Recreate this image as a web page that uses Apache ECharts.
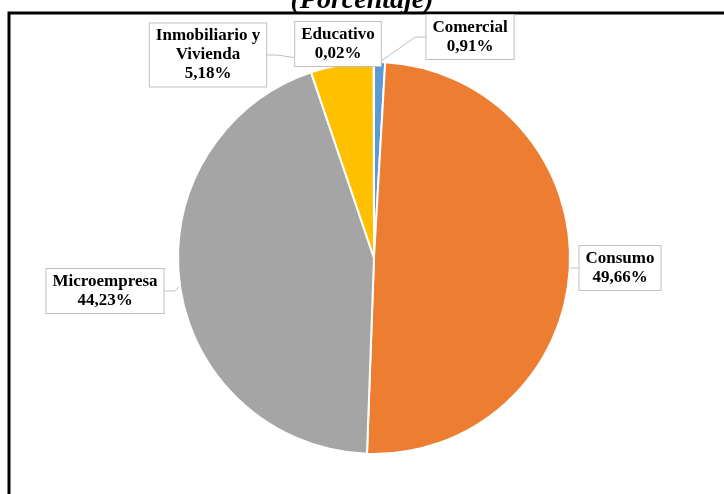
<!DOCTYPE html>
<html>
<head>
<meta charset="utf-8">
<script src="https://cdn.jsdelivr.net/npm/echarts@6/dist/echarts.min.js"></script>
<style>
  html, body { margin: 0; padding: 0; background: #fff; }
  #chart { width: 724px; height: 494px; }
</style>
</head>
<body>
<div id="chart"></div>
<script>
// datos del gráfico (porcentaje)
var categorias = ['Comercial', 'Consumo', 'Microempresa', 'Inmobiliario y Vivienda', 'Educativo'];
var valores = [0.91, 49.66, 44.23, 5.18, 0.02];
var colores = ['#5B9BD5', '#ED7D31', '#A5A5A5', '#FFC000', '#4472C4'];

// posicion de las etiquetas (centro de cada caja)
var posEtiquetas = [[470, 37], [620, 268], [105, 291], [208, 55], [338, 44]];

var myChart = echarts.init(document.getElementById('chart'));

var datos = [];
for (var i = 0; i < categorias.length; i++) {
    datos.push({ name: categorias[i], value: valores[i], itemStyle: { color: colores[i] } });
}

var option = {
    animation: false,
    backgroundColor: '#fff',
    title: {
        text: '(Porcentaje)',
        left: 'center',
        top: -18,
        textStyle: {
            fontFamily: 'Liberation Serif',
            fontStyle: 'italic',
            fontWeight: 'bold',
            fontSize: 28,
            color: '#000'
        }
    },
    graphic: [{
        type: 'polyline',
        shape: { points: [[9, 494], [9, 13], [724, 13]] },
        style: { stroke: '#000', lineWidth: 3, fill: null }
    }],
    series: [{
        type: 'pie',
        center: [374, 258],
        radius: 196,
        startAngle: 90,
        clockwise: true,
        avoidLabelOverlap: false,
        itemStyle: { borderColor: '#fff', borderWidth: 2 },
        label: {
            show: true,
            formatter: function (p) {
                return p.name.replace(' y ', ' y\n') + '\n' + p.value.toFixed(2).replace('.', ',') + '%';
            },
            fontFamily: 'Liberation Serif',
            fontWeight: 'bold',
            fontSize: 17,
            lineHeight: 19,
            color: '#000',
            align: 'center',
            backgroundColor: '#fff',
            borderColor: '#bfbfbf',
            borderWidth: 1,
            padding: [3, 6]
        },
        labelLine: {
            show: true,
            length: 10,
            length2: 10,
            lineStyle: { color: '#bfbfbf', width: 1 }
        },
        labelLayout: function (params) {
            var p = posEtiquetas[params.dataIndex];
            return { x: p[0], y: p[1], align: 'center', verticalAlign: 'middle' };
        },
        data: datos
    }]
};

myChart.setOption(option);
</script>
</body>
</html>
